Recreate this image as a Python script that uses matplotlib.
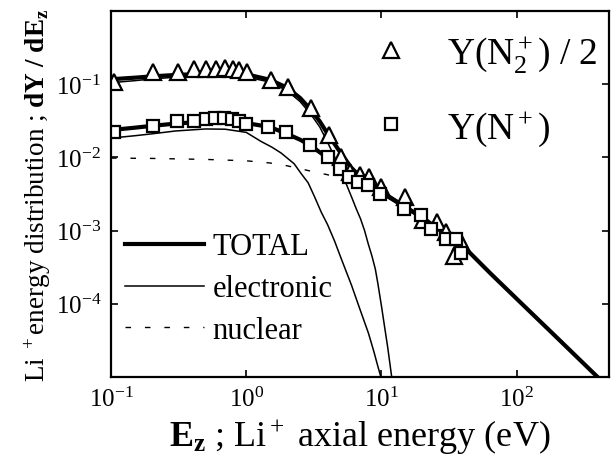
import numpy as np
import matplotlib
matplotlib.use('Agg')
import matplotlib.pyplot as plt
from matplotlib.lines import Line2D

plt.rcParams['font.family'] = 'Liberation Serif'
plt.rcParams['mathtext.fontset'] = 'custom'
plt.rcParams['mathtext.rm'] = 'Liberation Serif'
plt.rcParams['mathtext.it'] = 'Liberation Serif:italic'
plt.rcParams['mathtext.bf'] = 'Liberation Serif:bold'

# measured points : Y(N2+)/2 (triangles)
x_tri = [0.106, 0.206, 0.315, 0.413, 0.507, 0.601, 0.70, 0.80, 0.89, 1.02, 1.53, 2.04,
         3.0, 4.1, 5.0, 5.86, 6.9, 8.1, 9.9, 14.9, 20.2, 25.7, 29.9, 34.3, 38.6]
y_tri = [0.106, 0.146, 0.146, 0.160, 0.160, 0.160, 0.165, 0.160, 0.155, 0.146, 0.113, 0.091,
         0.047, 0.0202, 0.0102, 0.00635, 0.00578, 0.00543, 0.00397, 0.0029, 0.0014, 0.00132,
         0.00097, 0.00045, 0.00071]

# measured points : Y(N+) (squares)
x_sq = [0.106, 0.206, 0.305, 0.413, 0.50, 0.59, 0.69, 0.79, 0.89, 1.0, 1.45, 1.97, 2.97,
        4.03, 4.94, 5.75, 6.7, 7.95, 9.75, 14.6, 19.6, 23.2, 30.0, 35.3, 38.6]
y_sq = [0.0222, 0.0268, 0.0314, 0.0314, 0.0334, 0.0345, 0.0345, 0.0334, 0.0314, 0.0286,
        0.026, 0.0222, 0.0148, 0.0102, 0.0070, 0.0054, 0.00465, 0.00423, 0.00318, 0.0020,
        0.00166, 0.00106, 0.00078, 0.00078, 0.00049]

# model curves
x_tot_hi = [0.1, 0.15, 0.2, 0.3, 0.5, 0.7, 1, 1.5, 2, 2.5, 3, 3.5, 4, 5, 6, 7, 8, 10, 15, 20]
y_tot_hi = [0.117, 0.123, 0.128, 0.134, 0.139, 0.14, 0.137, 0.115, 0.09, 0.065, 0.045, 0.031,
            0.021, 0.0115, 0.0072, 0.0054, 0.0045, 0.0034, 0.0021, 0.0015]

x_tot_lo = [0.1, 0.15, 0.2, 0.3, 0.5, 0.7, 1, 1.5, 2, 2.5, 3, 4, 5, 6, 7, 8, 10, 15, 20, 30,
            40, 64, 100, 200, 396]
y_tot_lo = [0.0237, 0.0255, 0.027, 0.029, 0.031, 0.031, 0.0295, 0.026, 0.021, 0.0175, 0.0145,
            0.0098, 0.0068, 0.0053, 0.0045, 0.004, 0.0033, 0.0021, 0.00152, 0.00088, 0.00062,
            0.00026, 0.000117, 3.4e-5, 1e-5]

x_el_hi = [0.1, 0.15, 0.2, 0.3, 0.5, 0.7, 1, 1.5, 2, 2.5, 3, 3.5, 4, 4.5, 5, 5.5, 6, 6.5, 7,
           7.5, 8, 8.5, 9, 9.4, 10, 10.5, 11.1, 11.5, 11.9]
y_el_hi = [0.105, 0.112, 0.118, 0.125, 0.13, 0.13, 0.126, 0.107, 0.082, 0.058, 0.039, 0.026,
           0.016, 0.0102, 0.0063, 0.0043, 0.0029, 0.002, 0.00145, 0.001, 0.00065, 0.00045,
           0.0003, 0.00019, 9.3e-5, 5.1e-5, 2.6e-5, 1.6e-5, 1e-5]

x_el_lo = [0.1, 0.15, 0.2, 0.3, 0.5, 0.7, 1, 1.29, 1.55, 1.81, 2.26, 2.55, 2.87, 3.2, 3.58,
           4, 4.5, 5, 6, 7, 8, 8.8, 9.4, 9.9]
y_el_lo = [0.0184, 0.0198, 0.021, 0.023, 0.0245, 0.0243, 0.022, 0.0165, 0.0138, 0.0115,
           0.0082, 0.006, 0.0045, 0.0029, 0.0018, 0.0012, 0.00072, 0.00043, 0.00018, 8e-5,
           4e-5, 2.2e-5, 1.4e-5, 1e-5]

x_nuc = [0.1, 0.2, 0.5, 1, 1.5, 2, 3, 4, 5, 6, 7, 8, 10, 15, 20, 30, 40, 64, 100, 200, 396]
y_nuc = [0.0098, 0.0097, 0.0094, 0.009, 0.0084, 0.0077, 0.0065, 0.0058, 0.0052, 0.0047, 0.0043,
         0.0039, 0.0032, 0.0021, 0.0015, 0.00088, 0.00062, 0.00026, 0.000117, 3.4e-5, 1e-5]

xticks = [0.1, 1, 10, 100]
xticklabels = [r'$10^{-1}$', r'$10^{0}$', r'$10^{1}$', r'$10^{2}$']
yticks = [1e-4, 1e-3, 1e-2, 1e-1]
yticklabels = [r'$10^{-4}$', r'$10^{-3}$', r'$10^{-2}$', r'$10^{-1}$']

fig = plt.figure(figsize=(6.15, 4.64), dpi=100)
ax = fig.add_axes([0.1805, 0.1853, 0.8095, 0.7887])

dots = (0, (4, 10))
ax.plot(x_nuc, y_nuc, color='k', lw=1.0, ls=dots)
ax.plot(x_el_hi, y_el_hi, color='k', lw=1.1)
ax.plot(x_el_lo, y_el_lo, color='k', lw=1.1)
ax.plot(x_tot_hi, y_tot_hi, color='k', lw=3)
ax.plot(x_tot_lo, y_tot_lo, color='k', lw=3)

tri, = ax.plot(x_tri, y_tri, ls='none', marker='^', ms=11, mfc='white', mec='k', mew=1.6)
sq, = ax.plot(x_sq, y_sq, ls='none', marker='s', ms=9, mfc='white', mec='k', mew=1.6)

ax.set_xscale('log')
ax.set_yscale('log')
ax.set_xlim(0.1, 480)
ax.set_ylim(1e-5, 1)
ax.minorticks_off()
ax.set_xticks(xticks)
ax.set_xticklabels(xticklabels)
ax.set_yticks(yticks)
ax.set_yticklabels(yticklabels)
ax.tick_params(which='major', direction='in', length=5, width=1.2, labelsize=18,
               top=True, right=True, pad=7)
for s in ax.spines.values():
    s.set_linewidth(1.6)

ax.set_xlabel(r'$\mathbf{E_z}$ ; Li$^+$ axial energy (eV)', fontsize=26, labelpad=4)
ax.set_ylabel(r'Li $^+$energy distribution ; $\mathbf{dY\ /\ dE_z}$', fontsize=19.5, labelpad=2)

# line legend (lower left)
h_tot = Line2D([], [], color='k', lw=3)
h_el = Line2D([], [], color='k', lw=1.1)
h_nuc = Line2D([], [], color='k', lw=1.0, ls=dots)
leg1 = ax.legend([h_tot, h_el, h_nuc], ['TOTAL', 'electronic', 'nuclear'],
                 loc='upper left', bbox_to_anchor=(0.028, 0.395), frameon=False, fontsize=22,
                 handlelength=2.6, handletextpad=0.26, labelspacing=0.42,
                 borderpad=0, borderaxespad=0)
ax.add_artist(leg1)

# marker legend (upper right)
ax.legend([tri, sq], [r'Y(N$_2^+$) / 2', r'Y(N$^+$)'], loc='upper left',
          bbox_to_anchor=(0.524, 0.94), frameon=False, fontsize=27, numpoints=1,
          handlelength=1.0, handletextpad=1.0, labelspacing=0.9,
          borderpad=0, borderaxespad=0)

fig.savefig('out.png', dpi=100)
